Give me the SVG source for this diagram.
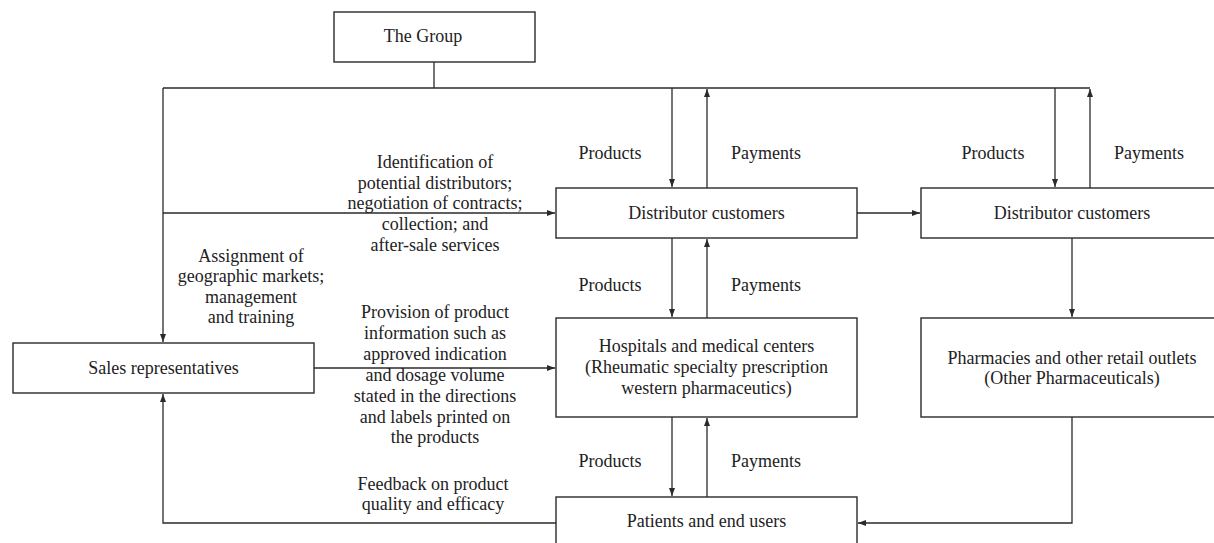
<svg xmlns="http://www.w3.org/2000/svg" width="1214" height="543" viewBox="0 0 1214 543">
  <defs>
    <marker id="arrow" markerWidth="8" markerHeight="6" refX="8" refY="3" orient="auto" markerUnits="userSpaceOnUse">
      <path d="M0,0 L8,3 L0,6 z" fill="#2a2a2a"/>
    </marker>
    <style>
      .box { fill: #ffffff; stroke: #2a2a2a; stroke-width: 1.4; }
      .line { fill: none; stroke: #2a2a2a; stroke-width: 1.3; }
      .arr { marker-end: url(#arrow); }
      text { font-family: "Liberation Serif", "Times New Roman", serif; font-size: 18px; fill: #222222; text-anchor: middle; }
    </style>
  </defs>
  <rect width="1214" height="543" fill="#ffffff"/>

  <!-- connectors -->
  <g id="connectors">
    <!-- trunk from The Group -->
    <path class="line" d="M434,62 V88"/>
    <path class="line" d="M163,88 H1090"/>
    <!-- left branch down to sales representatives -->
    <path class="line arr" d="M163,88 V342"/>
    <!-- to distributor customers -->
    <path class="line arr" d="M163,213 H555"/>
    <!-- distributor 1 products / payments -->
    <path class="line arr" d="M672,88 V187"/>
    <path class="line arr" d="M707,188 V89"/>
    <!-- distributor 2 products / payments -->
    <path class="line arr" d="M1055,88 V187"/>
    <path class="line arr" d="M1090,188 V89"/>
    <!-- distributor 1 to distributor 2 -->
    <path class="line arr" d="M857,213 H920"/>
    <!-- distributor 1 to hospitals -->
    <path class="line arr" d="M672,238 V317"/>
    <path class="line arr" d="M707,318 V239"/>
    <!-- hospitals to patients -->
    <path class="line arr" d="M672,417 V496"/>
    <path class="line arr" d="M707,497 V418"/>
    <!-- distributor 2 to pharmacies -->
    <path class="line arr" d="M1072,238 V317"/>
    <!-- pharmacies to patients -->
    <path class="line arr" d="M1072,417 V523 H858"/>
    <!-- sales representatives to hospitals -->
    <path class="line arr" d="M314,368 H555"/>
    <!-- feedback from patients to sales representatives -->
    <path class="line arr" d="M556,523 H163 V394"/>
  </g>

  <!-- connector labels -->
  <g id="labels">
    <text x="610" y="159">Products</text>
    <text x="766" y="159">Payments</text>
    <text x="993" y="159">Products</text>
    <text x="1149" y="159">Payments</text>
    <text x="610" y="291">Products</text>
    <text x="766" y="291">Payments</text>
    <text x="610" y="467">Products</text>
    <text x="766" y="467">Payments</text>

    <text x="435" y="168">Identification of</text>
    <text x="435" y="189">potential distributors;</text>
    <text x="435" y="209">negotiation of contracts;</text>
    <text x="435" y="230">collection; and</text>
    <text x="435" y="251">after-sale services</text>

    <text x="251" y="262">Assignment of</text>
    <text x="251" y="282">geographic markets;</text>
    <text x="251" y="303">management</text>
    <text x="251" y="323">and training</text>

    <text x="435" y="318">Provision of product</text>
    <text x="435" y="339">information such as</text>
    <text x="435" y="360">approved indication</text>
    <text x="435" y="381">and dosage volume</text>
    <text x="435" y="402">stated in the directions</text>
    <text x="435" y="423">and labels printed on</text>
    <text x="435" y="443">the products</text>

    <text x="433" y="490">Feedback on product</text>
    <text x="433" y="510">quality and efficacy</text>
  </g>

  <!-- nodes -->
  <g id="the-group">
    <rect class="box" x="334" y="12" width="201" height="50"/>
    <text x="423" y="42">The Group</text>
  </g>
  <g id="distributor-customers-1">
    <rect class="box" x="556" y="188" width="301" height="50"/>
    <text x="706.5" y="219">Distributor customers</text>
  </g>
  <g id="distributor-customers-2">
    <rect class="box" x="921" y="188" width="302" height="50"/>
    <text x="1072" y="219">Distributor customers</text>
  </g>
  <g id="sales-representatives">
    <rect class="box" x="13" y="343" width="301" height="50"/>
    <text x="163.5" y="374">Sales representatives</text>
  </g>
  <g id="hospitals">
    <rect class="box" x="556" y="318" width="301" height="99"/>
    <text x="706.5" y="352">Hospitals and medical centers</text>
    <text x="706.5" y="373">(Rheumatic specialty prescription</text>
    <text x="706.5" y="394">western pharmaceutics)</text>
  </g>
  <g id="pharmacies">
    <rect class="box" x="921" y="318" width="302" height="99"/>
    <text x="1072" y="364">Pharmacies and other retail outlets</text>
    <text x="1072" y="384">(Other Pharmaceuticals)</text>
  </g>
  <g id="patients">
    <rect class="box" x="556" y="497" width="301" height="52"/>
    <text x="706.5" y="527">Patients and end users</text>
  </g>
</svg>
